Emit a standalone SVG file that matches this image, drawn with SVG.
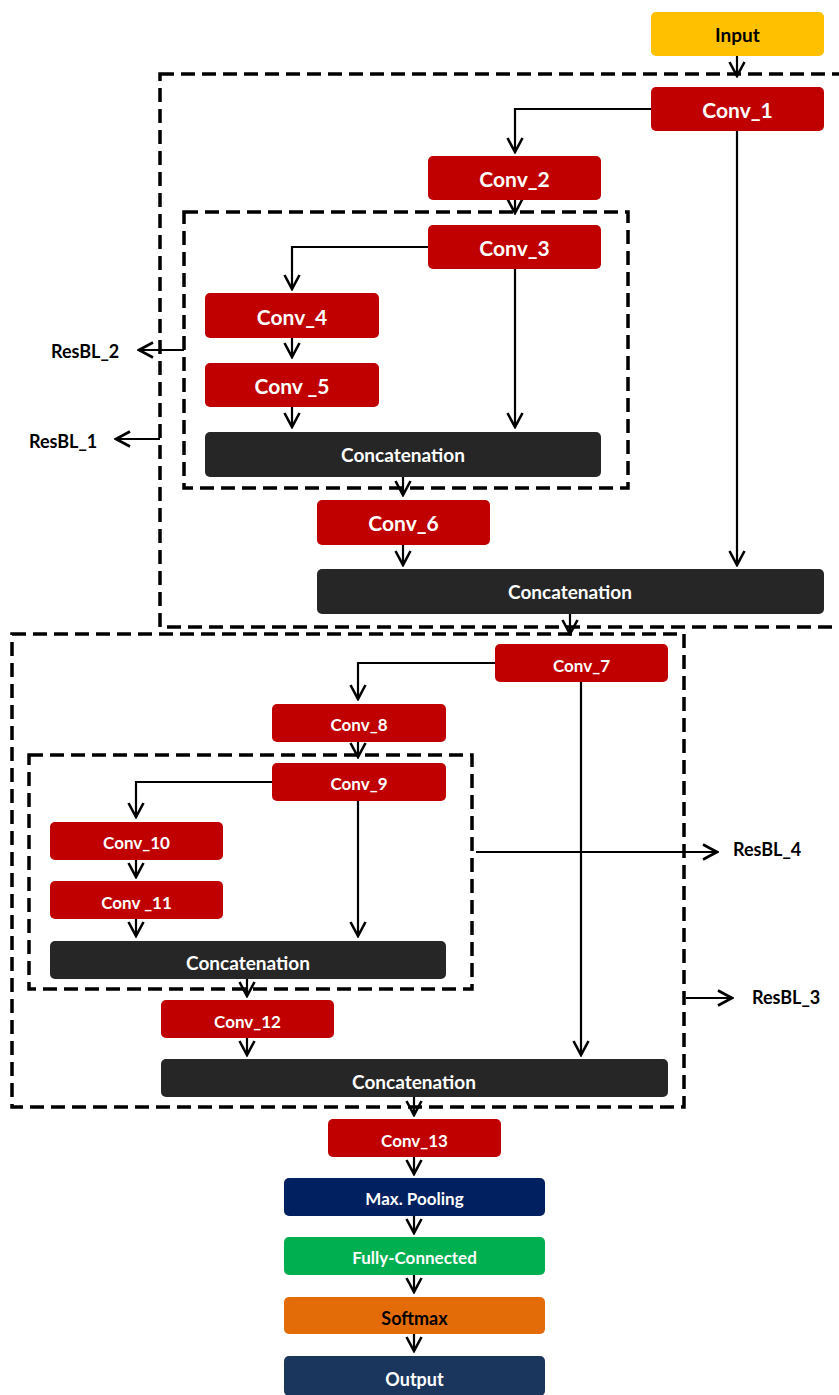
<svg xmlns="http://www.w3.org/2000/svg" width="839" height="1395" viewBox="0 0 839 1395">
<style>
text{font-family:Lato,"Open Sans","Liberation Sans",sans-serif;font-weight:bold;text-anchor:middle;dominant-baseline:central}
.red{fill:#C00000}
.dark{fill:#262626}
.w{fill:#FFFFFF}
.k{fill:#000000}
.f21{font-size:21px}
.f19{font-size:19px}
.f18{font-size:18px}
.f17{font-size:17px}
.lbl{font-size:18px;fill:#000;text-anchor:start}
.dash{fill:none;stroke:#000;stroke-width:3.5;stroke-dasharray:14 7}
.con{fill:none;stroke:#000;stroke-width:2.2;marker-end:url(#ah)}
</style>
<defs>
<marker id="ah" markerUnits="userSpaceOnUse" markerWidth="18" markerHeight="18" viewBox="-16 -9 18 18" refX="0" refY="0" orient="auto">
<path d="M-14,-7.5 L0,0 L-14,7.5" fill="none" stroke="#000" stroke-width="2.6"/>
</marker>
</defs>
<rect width="839" height="1395" fill="#FFFFFF"/>

<g id="groups">
<rect class="dash" x="160" y="74" width="700" height="553"/>
<rect class="dash" x="184" y="212" width="444" height="276"/>
<rect class="dash" x="12" y="634" width="672" height="473"/>
<rect class="dash" x="29" y="755" width="443" height="234"/>
</g>

<g id="connectors">
<polyline class="con" points="737,56 737,76"/>
<polyline class="con" points="651,109 515,109 515,152"/>
<polyline class="con" points="737,131 737,565"/>
<polyline class="con" points="515,200 515,213"/>
<polyline class="con" points="428,247 292,247 292,289"/>
<polyline class="con" points="515,269 515,427"/>
<polyline class="con" points="292,338 292,357"/>
<polyline class="con" points="292,407 292,427"/>
<polyline class="con" points="403,477 403,495"/>
<polyline class="con" points="403,545 403,565"/>
<polyline class="con" points="570,614 570,634"/>
<polyline class="con" points="184,350 139,350"/>
<polyline class="con" points="160,439 116,439"/>
<polyline class="con" points="495,663 358,663 358,699"/>
<polyline class="con" points="581,682 581,1055"/>
<polyline class="con" points="358,742 358,757"/>
<polyline class="con" points="272,782 136,782 136,817"/>
<polyline class="con" points="358,801 358,936"/>
<polyline class="con" points="136,860 136,877"/>
<polyline class="con" points="136,919 136,936"/>
<polyline class="con" points="476,852 717,852"/>
<polyline class="con" points="686,998 732,998"/>
<polyline class="con" points="247,979 247,996"/>
<polyline class="con" points="247,1038 247,1055"/>
<polyline class="con" points="414,1097 414,1115"/>
<polyline class="con" points="414,1157 414,1174"/>
<polyline class="con" points="414,1216 414,1233"/>
<polyline class="con" points="414,1275 414,1292"/>
<polyline class="con" points="414,1334 414,1351"/>
</g>

<g id="input"><rect x="651" y="12" width="173" height="44" rx="5" fill="#FFC000"/><text class="k f19" x="737.5" y="34">Input</text></g>
<g id="conv1"><rect class="red" x="651" y="87" width="173" height="44" rx="5"/><text class="w f21" x="737.5" y="109">Conv_1</text></g>
<g id="conv2"><rect class="red" x="428" y="156" width="173" height="44" rx="5"/><text class="w f21" x="514.5" y="178">Conv_2</text></g>
<g id="conv3"><rect class="red" x="428" y="225" width="173" height="44" rx="5"/><text class="w f21" x="514.5" y="247">Conv_3</text></g>
<g id="conv4"><rect class="red" x="205" y="293" width="174" height="45" rx="5"/><text class="w f21" x="292" y="316">Conv_4</text></g>
<g id="conv5"><rect class="red" x="205" y="363" width="174" height="44" rx="5"/><text class="w f21" x="292" y="385">Conv _5</text></g>
<g id="concat1"><rect class="dark" x="205" y="432" width="396" height="45" rx="5"/><text class="w f19" x="403" y="454">Concatenation</text></g>
<g id="conv6"><rect class="red" x="317" y="500" width="173" height="45" rx="5"/><text class="w f21" x="403.5" y="522">Conv_6</text></g>
<g id="concat2"><rect class="dark" x="317" y="569" width="507" height="45" rx="5"/><text class="w f19" x="570" y="591">Concatenation</text></g>
<g id="resbl2"><text class="lbl" x="51" y="351">ResBL_2</text></g>
<g id="resbl1"><text class="lbl" x="29" y="441">ResBL_1</text></g>

<g id="conv7"><rect class="red" x="495" y="644" width="173" height="38" rx="5"/><text class="w f17" x="581.5" y="665">Conv_7</text></g>
<g id="conv8"><rect class="red" x="272" y="704" width="174" height="38" rx="5"/><text class="w f17" x="359" y="724">Conv_8</text></g>
<g id="conv9"><rect class="red" x="272" y="763" width="174" height="38" rx="5"/><text class="w f17" x="359" y="783">Conv_9</text></g>
<g id="conv10"><rect class="red" x="50" y="822" width="173" height="38" rx="5"/><text class="w f17" x="136.5" y="842">Conv_10</text></g>
<g id="conv11"><rect class="red" x="50" y="881" width="173" height="38" rx="5"/><text class="w f17" x="136.5" y="902">Conv _11</text></g>
<g id="concat3"><rect class="dark" x="50" y="941" width="396" height="38" rx="5"/><text class="w f19" x="248" y="962">Concatenation</text></g>
<g id="conv12"><rect class="red" x="161" y="1000" width="173" height="38" rx="5"/><text class="w f17" x="247.5" y="1021">Conv_12</text></g>
<g id="concat4"><rect class="dark" x="161" y="1059" width="507" height="38" rx="5"/><text class="w f19" x="414" y="1081">Concatenation</text></g>
<g id="resbl4"><text class="lbl" x="733" y="849">ResBL_4</text></g>
<g id="resbl3"><text class="lbl" x="752" y="997">ResBL_3</text></g>

<g id="conv13"><rect class="red" x="328" y="1119" width="173" height="38" rx="5"/><text class="w f17" x="414.5" y="1140">Conv_13</text></g>
<g id="maxpool"><rect x="284" y="1178" width="261" height="38" rx="5" fill="#002060"/><text class="w f17" x="414.5" y="1198">Max. Pooling</text></g>
<g id="fc"><rect x="284" y="1237" width="261" height="38" rx="5" fill="#00B050"/><text class="w f17" x="414.5" y="1257">Fully-Connected</text></g>
<g id="softmax"><rect x="284" y="1297" width="261" height="37" rx="5" fill="#E36C09"/><text class="k f18" x="414.5" y="1318">Softmax</text></g>
<g id="output"><rect x="284" y="1356" width="261" height="40" rx="5" fill="#1B365D"/><text class="w f18" x="414.5" y="1379">Output</text></g>
</svg>
